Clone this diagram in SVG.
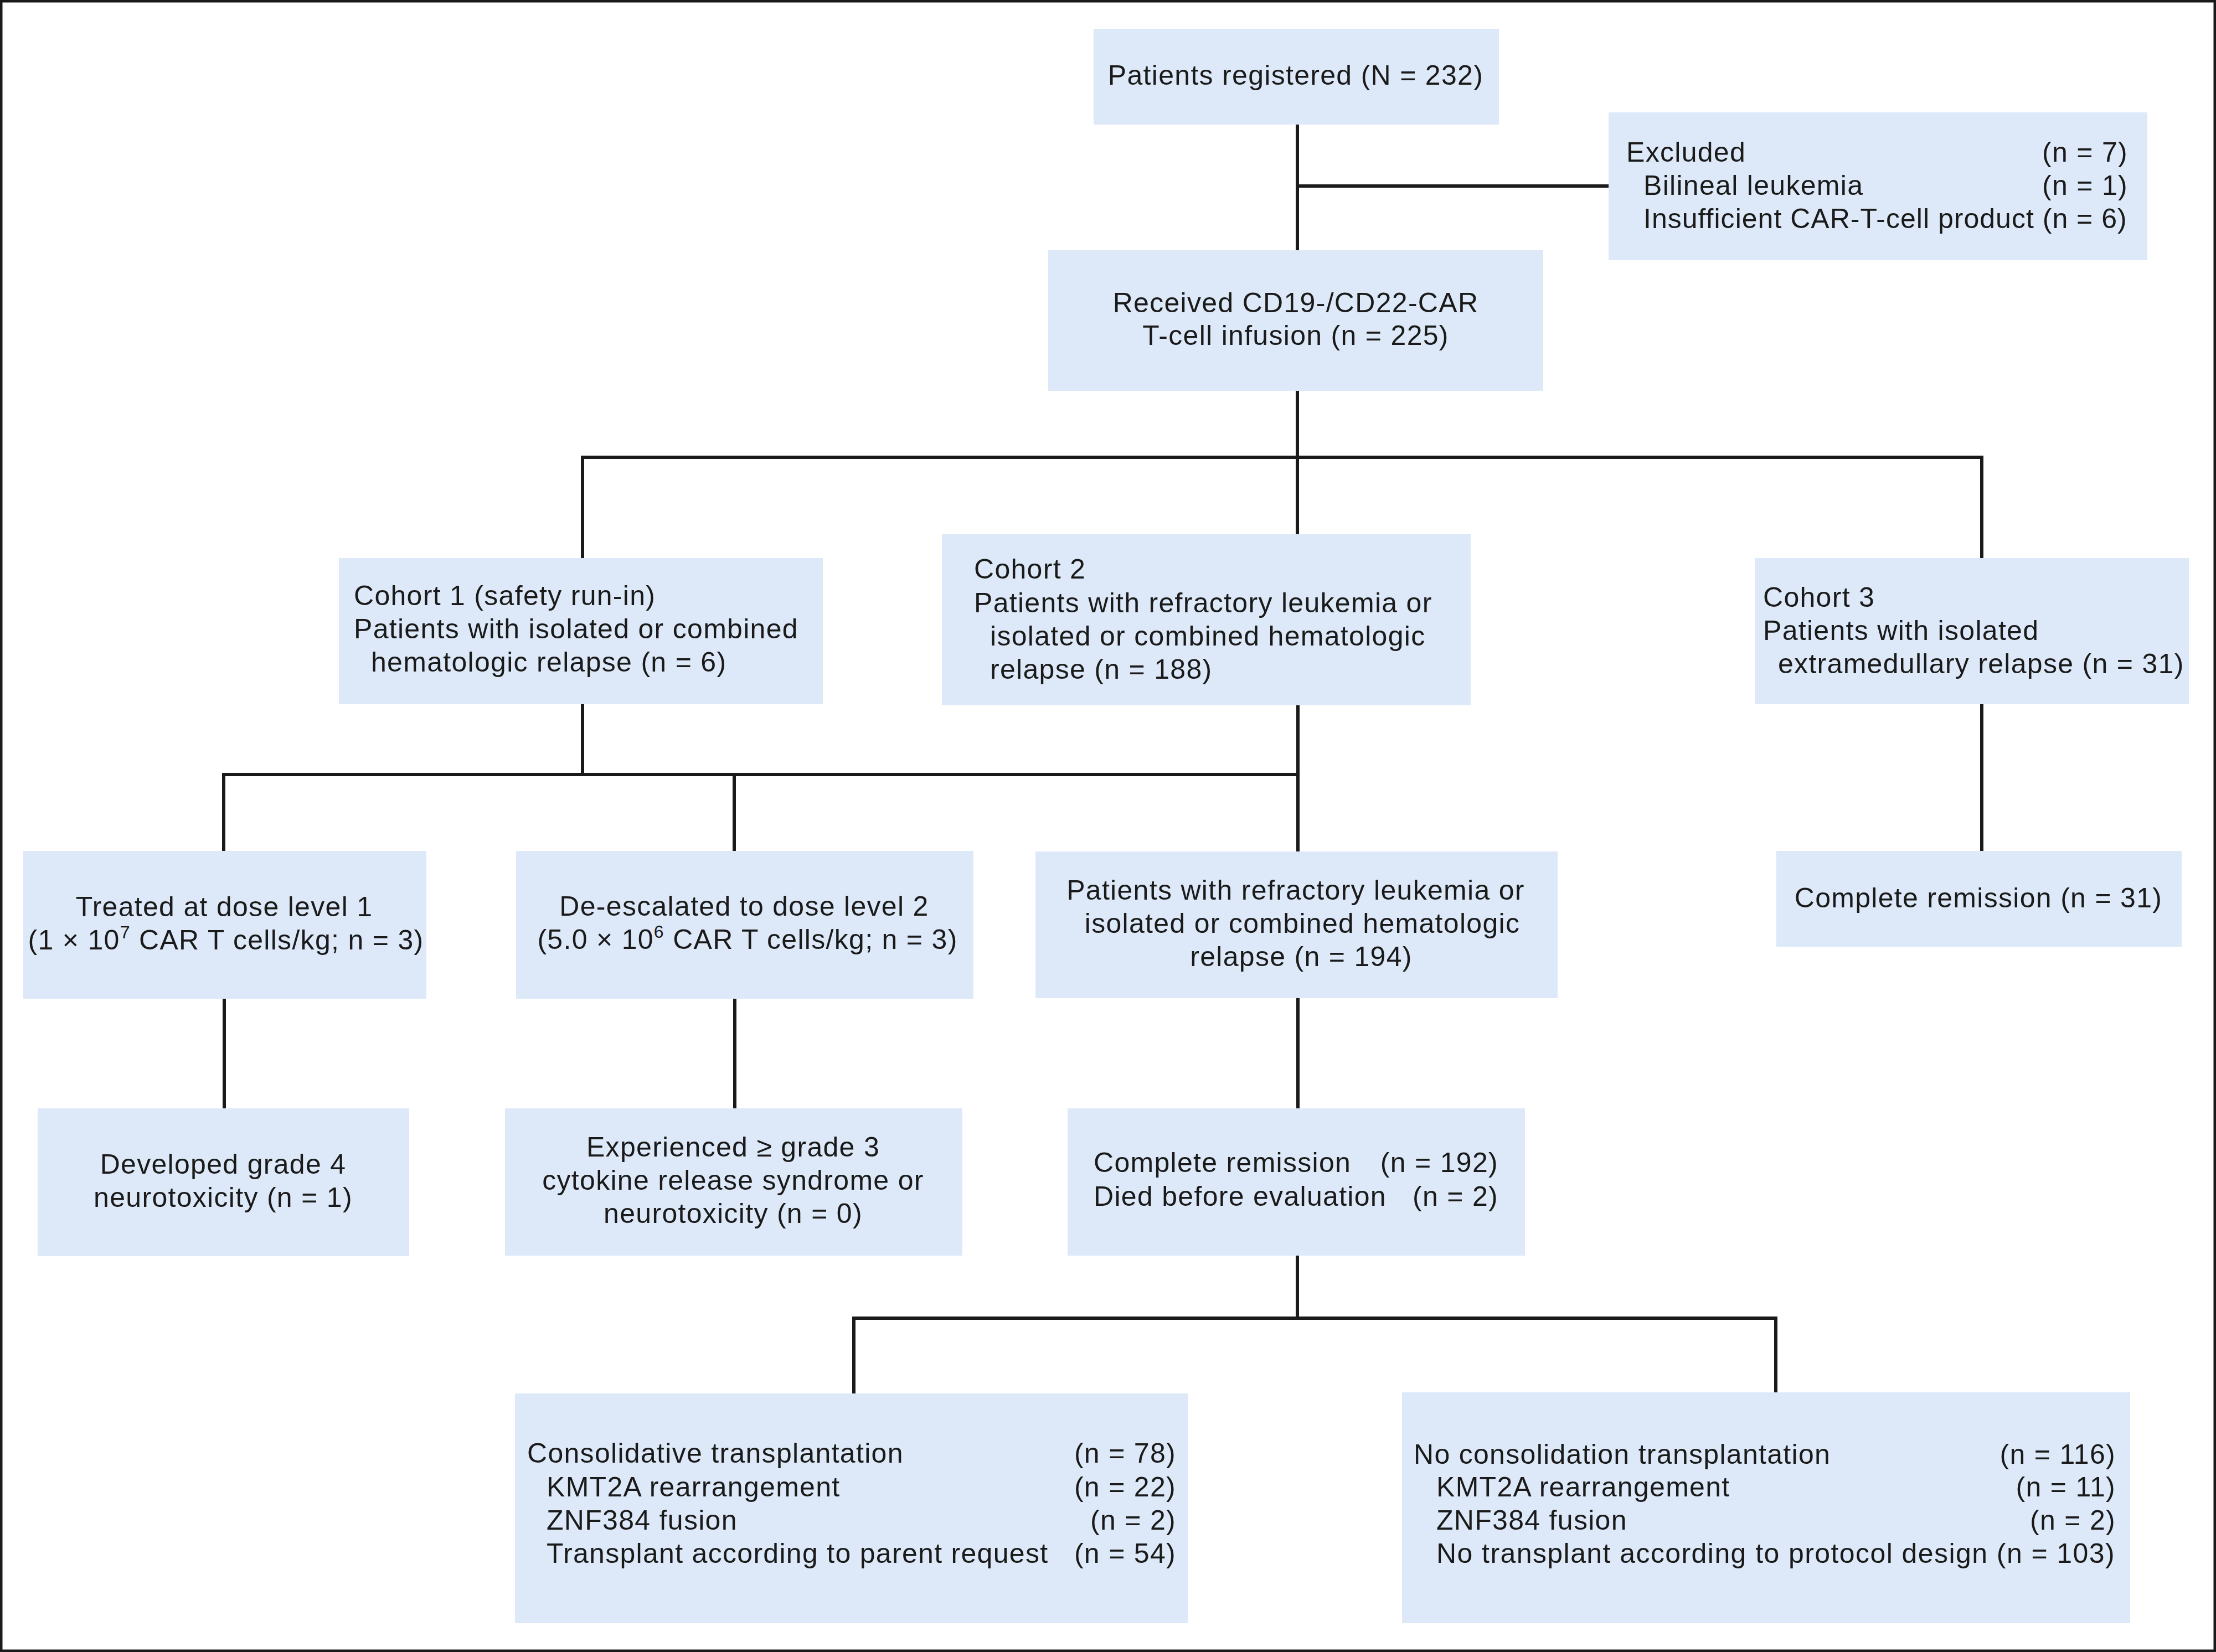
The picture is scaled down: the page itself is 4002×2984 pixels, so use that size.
<svg xmlns="http://www.w3.org/2000/svg" width="4002" height="2984" viewBox="0 0 4002 2984">
<style>
.bg{fill:#ffffff}
.frame{fill:none;stroke:#1a1a1a;stroke-width:9}
.box{fill:#dde9f8}
.ln{fill:none;stroke:#1a1a1a;stroke-width:6;stroke-linejoin:miter}
text{font-family:"Liberation Sans",Arial,Helvetica,sans-serif;font-size:50px;fill:#1a1a1a;letter-spacing:1.3px}
.c{text-anchor:middle}
.r{text-anchor:end}
.sup{font-size:32px}
</style>
<rect class="bg" x="0" y="0" width="4002" height="2984"/>
<rect class="frame" x="0" y="0" width="4002" height="2984"/>
<g id="connectors">
<path class="ln" d="M2343,225 V452"/>
<path class="ln" d="M2343,336 H2905"/>
<path class="ln" d="M2343,706 V965"/>
<path class="ln" d="M1052,1008 V826 H3579 V1008"/>
<path class="ln" d="M1052,1272 V1399"/>
<path class="ln" d="M404,1537 V1399 H2344"/>
<path class="ln" d="M2344,1274 V1538"/>
<path class="ln" d="M1326,1399 V1537"/>
<path class="ln" d="M3579,1272 V1537"/>
<path class="ln" d="M405,1804 V2003"/>
<path class="ln" d="M1327,1804 V2003"/>
<path class="ln" d="M2344,1803 V2003"/>
<path class="ln" d="M2343,2268 V2381"/>
<path class="ln" d="M1542,2517 V2381 H3207 V2515"/>
</g>
<g id="registered">
<rect class="box" x="1975" y="52" width="732" height="173"/>
<text class="c" x="2340" y="153">Patients registered (N = 232)</text>
</g>
<g id="excluded">
<rect class="box" x="2905" y="203" width="973" height="267"/>
<text x="2937" y="292">Excluded</text>
<text class="r" x="3843" y="292">(n = 7)</text>
<text x="2968" y="352">Bilineal leukemia</text>
<text class="r" x="3843" y="352">(n = 1)</text>
<text x="2968" y="412" textLength="874" lengthAdjust="spacing">Insufficient CAR-T-cell product (n = 6)</text>
</g>
<g id="received">
<rect class="box" x="1893" y="452" width="894" height="254"/>
<text class="c" x="2340" y="564">Received CD19-/CD22-CAR</text>
<text class="c" x="2340" y="623">T-cell infusion (n = 225)</text>
</g>
<g id="cohort1">
<rect class="box" x="612" y="1008" width="874" height="264"/>
<text x="639" y="1093">Cohort 1 (safety run-in)</text>
<text x="639" y="1153">Patients with isolated or combined</text>
<text x="670" y="1213">hematologic relapse (n = 6)</text>
</g>
<g id="cohort2">
<rect class="box" x="1701" y="965" width="955" height="309"/>
<text x="1759" y="1045">Cohort 2</text>
<text x="1759" y="1106">Patients with refractory leukemia or</text>
<text x="1788" y="1166">isolated or combined hematologic</text>
<text x="1788" y="1226">relapse (n = 188)</text>
</g>
<g id="cohort3">
<rect class="box" x="3169" y="1008" width="784" height="264"/>
<text x="3184" y="1096">Cohort 3</text>
<text x="3184" y="1156">Patients with isolated</text>
<text x="3211" y="1216">extramedullary relapse (n = 31)</text>
</g>
<g id="dose1">
<rect class="box" x="42" y="1537" width="728" height="267"/>
<text class="c" x="405" y="1655">Treated at dose level 1</text>
<text class="c" x="408" y="1715">(1 × 10<tspan class="sup" dy="-20">7</tspan><tspan dy="20"> CAR T cells/kg; n = 3)</tspan></text>
</g>
<g id="dose2">
<rect class="box" x="932" y="1537" width="826" height="267"/>
<text class="c" x="1344" y="1654">De-escalated to dose level 2</text>
<text class="c" x="1350" y="1714">(5.0 × 10<tspan class="sup" dy="-20">6</tspan><tspan dy="20"> CAR T cells/kg; n = 3)</tspan></text>
</g>
<g id="cohort2b">
<rect class="box" x="1870" y="1538" width="943" height="265"/>
<text class="c" x="2340" y="1625">Patients with refractory leukemia or</text>
<text class="c" x="2352" y="1685">isolated or combined hematologic</text>
<text class="c" x="2350" y="1745">relapse (n = 194)</text>
</g>
<g id="cr31">
<rect class="box" x="3208" y="1537" width="732" height="173"/>
<text class="c" x="3573" y="1639">Complete remission (n = 31)</text>
</g>
<g id="neurotox">
<rect class="box" x="68" y="2002" width="671" height="267"/>
<text class="c" x="403" y="2120">Developed grade 4</text>
<text class="c" x="403" y="2180">neurotoxicity (n = 1)</text>
</g>
<g id="crs">
<rect class="box" x="912" y="2002" width="826" height="266"/>
<text class="c" x="1324" y="2089">Experienced ≥ grade 3</text>
<text class="c" x="1324" y="2149">cytokine release syndrome or</text>
<text class="c" x="1324" y="2209">neurotoxicity (n = 0)</text>
</g>
<g id="cr192">
<rect class="box" x="1928" y="2002" width="826" height="266"/>
<text x="1975" y="2117">Complete remission</text>
<text class="r" x="2706" y="2117">(n = 192)</text>
<text x="1975" y="2178">Died before evaluation</text>
<text class="r" x="2706" y="2178">(n = 2)</text>
</g>
<g id="transplant">
<rect class="box" x="930" y="2517" width="1215" height="415"/>
<text x="952" y="2642">Consolidative transplantation</text>
<text class="r" x="2124" y="2642">(n = 78)</text>
<text x="987" y="2703">KMT2A rearrangement</text>
<text class="r" x="2124" y="2703">(n = 22)</text>
<text x="987" y="2763">ZNF384 fusion</text>
<text class="r" x="2124" y="2763">(n = 2)</text>
<text x="987" y="2823">Transplant according to parent request</text>
<text class="r" x="2124" y="2823">(n = 54)</text>
</g>
<g id="notransplant">
<rect class="box" x="2532" y="2515" width="1315" height="417"/>
<text x="2553" y="2644">No consolidation transplantation</text>
<text class="r" x="3821" y="2644">(n = 116)</text>
<text x="2594" y="2703">KMT2A rearrangement</text>
<text class="r" x="3821" y="2703">(n = 11)</text>
<text x="2594" y="2763">ZNF384 fusion</text>
<text class="r" x="3821" y="2763">(n = 2)</text>
<text x="2594" y="2823" textLength="1226" lengthAdjust="spacing">No transplant according to protocol design (n = 103)</text>
</g>
</svg>
